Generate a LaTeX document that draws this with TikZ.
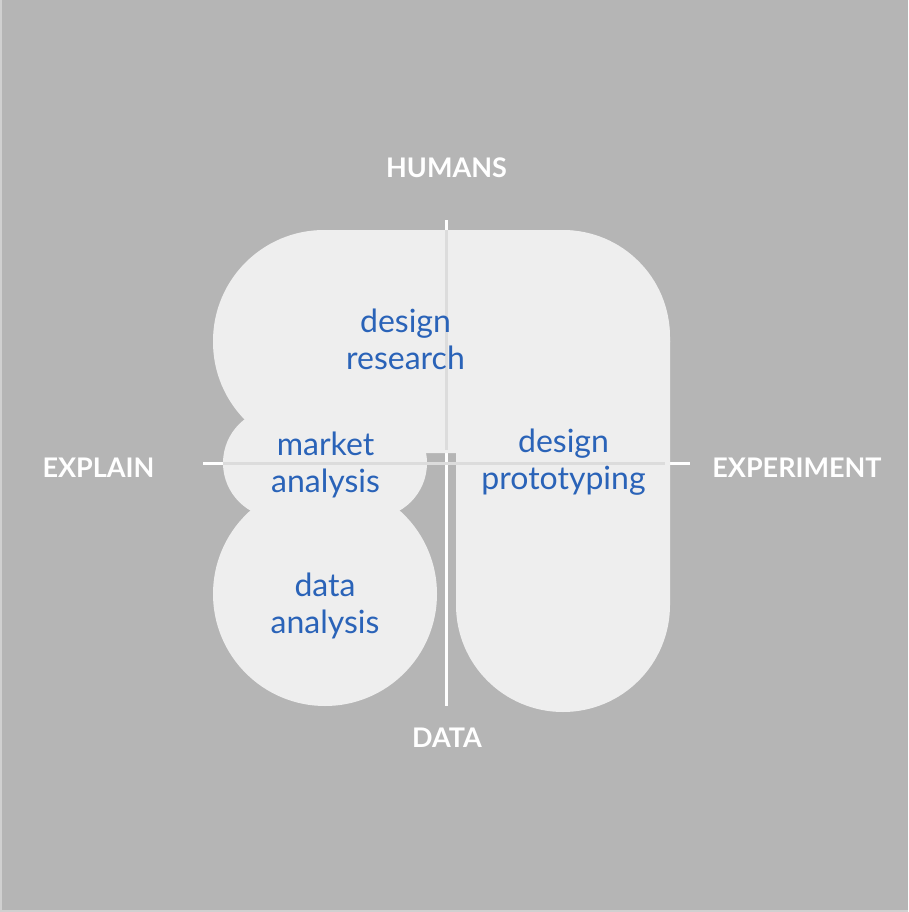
\documentclass[tikz,border=0pt]{standalone}
\usepackage{fontspec}
\setmainfont{Lato}
\usetikzlibrary{positioning}

\definecolor{bggrey}{HTML}{B5B5B5}
\definecolor{edgegrey}{HTML}{D0D0D0}
\definecolor{blobgrey}{HTML}{EEEEEE}
\definecolor{axisgrey}{HTML}{DCDCDC}
\definecolor{labelblue}{HTML}{2A63B8}

\begin{document}
\begin{tikzpicture}
    [x=1pt, y=-1pt,
     axis/.style={white,line width=3pt},
     inner/.style={axisgrey,line width=3pt},
     pole/.style={text=white,font=\fontsize{27}{32}\selectfont\bfseries,anchor=base},
     field/.style={text=labelblue,font=\fontsize{32}{37}\selectfont,align=center,anchor=base}]
    % Background
    \fill [edgegrey] (0, 0) rectangle (908, 912);
    \fill [bggrey] (2, 0) rectangle (908, 910);
    \useasboundingbox (0, 0) rectangle (908, 912);

    % Axes
    \coordinate (top) at (446, 220);
    \coordinate (bottom) at (446, 706);
    \coordinate (left) at (203, 463);
    \coordinate (right) at (690, 463);
    \draw [axis] (top) -- (bottom);
    \draw [axis] (left) -- (right);

    % Fields
    \fill [blobgrey, rounded corners=111] (213, 230) rectangle (670, 453);
    \fill [blobgrey, rounded corners=107] (456, 230) rectangle (670, 712);
    \fill [blobgrey, rounded corners=55] (223, 408) rectangle (427, 518);
    \fill [blobgrey] (325, 594) circle [radius=112];

    % Axes inside the fields
    \coordinate (north) at (446, 230);
    \coordinate (centre) at (446, 450);
    \coordinate (west) at (223, 463);
    \coordinate (east) at (665, 463);
    \draw [inner] (north) -- (centre);
    \draw [inner] (west) -- (east);

    % Poles
    \node (humans) at (446.5, 178) [pole] {HUMANS};
    \node (explain) at (98.5, 477) [pole] {EXPLAIN};
    \node (experiment) at (797, 477) [pole] {EXPERIMENT};
    \node (data) at (447, 747) [pole] {DATA};

    % Labels (base is the second line)
    \node (research) at (405.5, 369) [field] {design\\research};
    \node (market) at (325.5, 492) [field] {market\\analysis};
    \node (proto) at (563.5, 489) [field] {design\\prototyping};
    \node (analysis) at (325, 633) [field] {data\\analysis};
\end{tikzpicture}
\end{document}
